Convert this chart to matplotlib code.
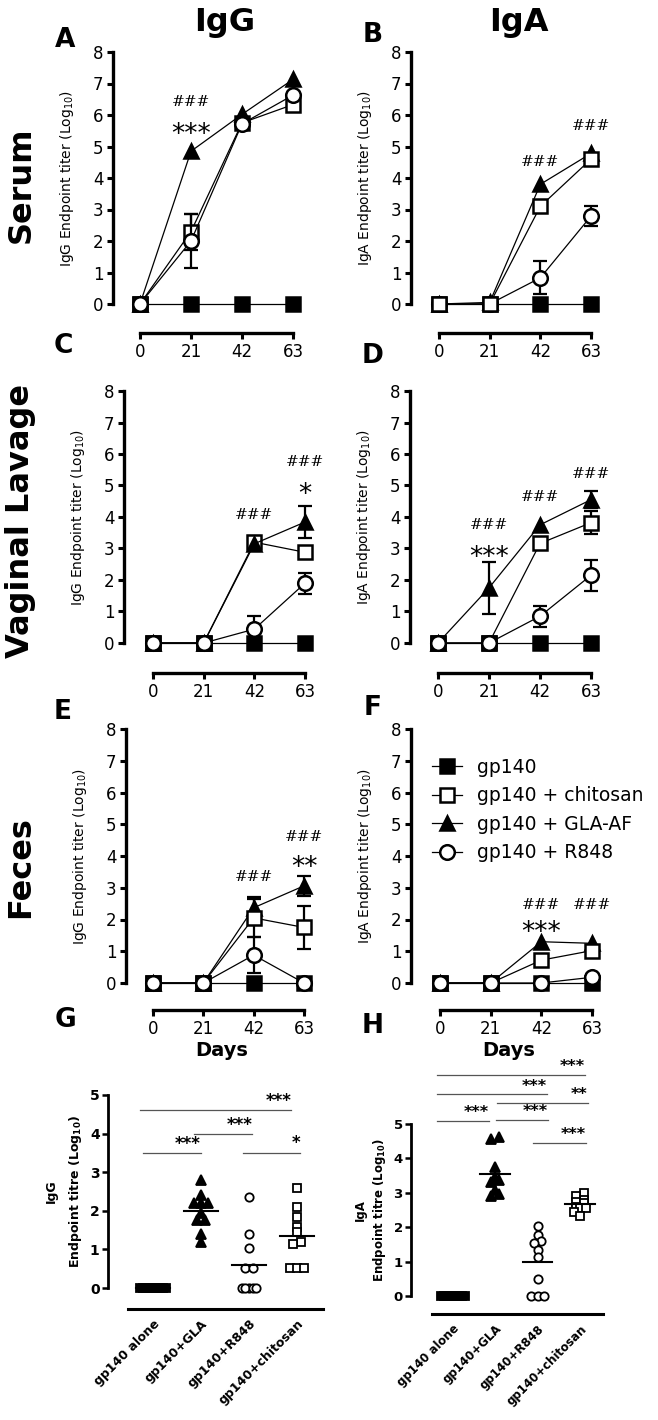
import numpy as np
import matplotlib
matplotlib.use('Agg')
import matplotlib.pyplot as plt

W, H = 658, 1420
fig = plt.figure(figsize=(W / 100, H / 100), dpi=100)
plt.rcParams['font.family'] = 'DejaVu Sans'

# ---------------- data ----------------
days = [0, 21, 42, 63]
groups = ['gp140', 'gp140 + chitosan', 'gp140 + GLA-AF', 'gp140 + R848']

# means per group (order as in `groups`), then SEM
serum_igg = [[0, 0, 0, 0], [0, 2.3, 5.75, 6.33], [0, 4.85, 6.02, 7.13], [0, 2.0, 5.72, 6.63]]
serum_igg_sem = [[0, 0, 0, 0], [0, 0.57, 0, 0], [0, 0, 0, 0], [0, 0.85, 0, 0]]
serum_iga = [[0, 0, 0, 0], [0, 0, 3.1, 4.6], [0, 0.05, 3.8, 4.78], [0, 0, 0.83, 2.79]]
serum_iga_sem = [[0, 0, 0, 0], [0, 0, 0, 0], [0, 0, 0, 0], [0, 0, 0.52, 0.31]]
vag_igg = [[0, 0, 0, 0], [0, 0, 3.2, 2.88], [0, 0, 3.15, 3.84], [0, 0, 0.44, 1.9]]
vag_igg_sem = [[0, 0, 0, 0], [0, 0, 0.2, 0], [0, 0, 0, 0.52], [0, 0, 0.42, 0.33]]
vag_iga = [[0, 0, 0, 0], [0, 0, 3.16, 3.82], [0, 1.75, 3.75, 4.55], [0, 0, 0.85, 2.15]]
vag_iga_sem = [[0, 0, 0, 0], [0, 0, 0, 0.36], [0, 0.82, 0, 0.28], [0, 0, 0.33, 0.49]]
fec_igg = [[0, 0, 0, 0], [0, 0, 2.05, 1.75], [0, 0, 2.37, 3.06], [0, 0, 0.88, 0]]
fec_igg_sem = [[0, 0, 0, 0], [0, 0, 0.6, 0.68], [0, 0, 0.34, 0.32], [0, 0, 0.57, 0]]
fec_iga = [[0, 0, 0, 0], [0, 0, 0.72, 1.02], [0, 0, 1.3, 1.25], [0, 0, 0, 0.18]]
fec_iga_sem = [[0, 0, 0, 0], [0, 0, 0, 0], [0, 0, 0, 0], [0, 0, 0, 0]]

# significance marks: (day, y, text)
serum_igg_marks = [(21, 6.4, '###'), (21, 5.6, '***')]
serum_iga_marks = [(42, 4.5, '###'), (63, 5.65, '###')]
vag_igg_marks = [(42, 4.05, '###'), (63, 5.75, '###'), (63, 4.95, '*')]
vag_iga_marks = [(21, 3.75, '###'), (21, 2.95, '***'), (42, 4.65, '###'), (63, 5.35, '###')]
fec_igg_marks = [(42, 3.35, '###'), (63, 4.6, '###'), (63, 3.85, '**')]
fec_iga_marks = [(42, 2.45, '###'), (42, 1.8, '***'), (63, 2.45, '###')]

# day-63 titres per mouse
cat_labels = ['gp140 alone', 'gp140+GLA', 'gp140+R848', 'gp140+chitosan']
igg_alone = [0] * 10
igg_gla = [2.8, 2.4, 2.2, 2.2, 2.2, 1.95, 1.75, 1.75, 1.4, 1.2]
igg_r848 = [2.37, 1.4, 1.03, 0.53, 0.53, 0, 0, 0, 0, 0]
igg_chitosan = [2.59, 2.11, 1.85, 1.57, 1.44, 1.19, 1.15, 0.52, 0.52, 0.52]
iga_alone = [0] * 10
iga_gla = [4.62, 4.55, 3.75, 3.45, 3.37, 3.3, 3.08, 2.97, 2.9]
iga_r848 = [2.03, 1.77, 1.6, 1.53, 1.33, 1.14, 0.5, 0, 0, 0]
iga_chitosan = [3.0, 2.92, 2.8, 2.74, 2.7, 2.6, 2.55, 2.55, 2.45, 2.33]
# (x from, x to, y, stars)
igg_sig = [(-0.27, 2.88, 4.6, '***'), (0.85, 2.07, 3.98, '***'),
           (-0.2, 1.0, 3.49, '***'), (1.87, 3.06, 3.5, '*')]
iga_sig = [(-0.38, 3.12, 6.42, '***'), (-0.38, 2.22, 5.86, '***'),
           (1.04, 3.19, 5.61, '**'), (-0.38, 0.85, 5.1, '***'),
           (1.02, 2.25, 5.13, '***'), (1.89, 3.14, 4.45, '***')]

styles = [dict(marker='s', mfc='black', ms=10),
          dict(marker='s', mfc='white', ms=10),
          dict(marker='^', mfc='black', ms=10),
          dict(marker='o', mfc='white', ms=10.5)]


def line_panel(geo, means, sems, marks, order, ylabel, xlabel=None):
    spine_x, x0, x63, y8, y0, xax = geo
    scale = (x63 - x0) / 63.0
    right = x63 + 14
    ax = fig.add_axes([spine_x / W, 1 - y0 / H, (right - spine_x) / W, (y0 - y8) / H])
    ax.set_xlim(-(x0 - spine_x) / scale, 63 + 14 / scale)
    ax.set_ylim(0, 8)
    z = 3
    for i in order:
        st = styles[i]
        m = np.array(means[i], float)
        e = np.array(sems[i], float)
        d = np.array(days)
        ok = e > 0
        if ok.any():
            ax.errorbar(d[ok], m[ok], yerr=e[ok], fmt='none', ecolor='black',
                        elinewidth=1.6, capsize=5, capthick=1.6, zorder=z, clip_on=False)
        ax.plot(d, m, color='black', lw=0.9, marker=st['marker'], ms=st['ms'],
                mfc=st['mfc'], mec='black', mew=1.8, clip_on=False, zorder=z + 0.5,
                label=groups[i])
        z += 1
    for d, y, t in marks:
        if t.startswith('#'):
            ax.text(d, y, t, ha='center', va='center', fontsize=11, family='DejaVu Serif')
        else:
            # asterisks sit high in the font, so anchor the baseline below the target
            ax.annotate(t, (d, y), xytext=(0, -10.5), textcoords='offset points',
                        ha='center', va='baseline', fontsize=19)
    for s in ['top', 'right']:
        ax.spines[s].set_visible(False)
    ax.spines['left'].set_linewidth(2.4)
    ax.spines['bottom'].set_linewidth(2.4)
    ax.spines['bottom'].set_position(('outward', (xax - y0) * 0.72))
    ax.spines['bottom'].set_bounds(0, 63)
    ax.set_xticks(days)
    ax.set_yticks(range(9))
    ax.tick_params(width=2.2, length=4, labelsize=12, direction='out', pad=3)
    ax.set_ylabel(ylabel, fontsize=10, labelpad=12)
    if xlabel:
        ax.set_xlabel(xlabel, fontsize=14, fontweight='bold', labelpad=2)
    return ax


def spread(vals, step, width):
    vals = np.asarray(vals, float)
    idx = np.argsort(vals)
    clusters = []
    for k in idx:
        if clusters and abs(vals[k] - vals[clusters[-1][0]]) <= 0.12:
            clusters[-1].append(k)
        else:
            clusters.append([k])
    off = np.zeros(len(vals))
    for c in clusters:
        n = len(c)
        st = step if n < 2 else min(step, width / (n - 1))
        for j, k in enumerate(c):
            off[k] = (j - (n - 1) / 2) * st
    return off


def dot_panel(geo, data, sig, ylabel, fs, lsp):
    spine_x, x0, xstep, y5, y0, xax, right, xl, xr = geo
    ax = fig.add_axes([spine_x / W, 1 - y0 / H, (right - spine_x) / W, (y0 - y5) / H])
    ax.set_xlim(-(x0 - spine_x) / xstep, (right - x0) / xstep)
    ax.set_ylim(0, 5)
    mk = [dict(marker='s', mfc='black'),
          dict(marker='^', mfc='black'),
          dict(marker='o', mfc='white'),
          dict(marker='s', mfc='white')]
    for i, vals in enumerate(data):
        width = 0.55 if i == 0 else 0.3
        off = spread(vals, 0.18, width)
        ax.plot(i + off, vals, ls='none', marker=mk[i]['marker'], ms=6 if i != 1 else 6.5,
                mfc=mk[i]['mfc'], mec='black', mew=1.3, clip_on=False, zorder=3)
        mean = np.mean(vals)
        ax.plot([i - 0.35, i + 0.35], [mean, mean], color='black', lw=1.5, zorder=4,
                clip_on=False)
    for a, b, y, t in sig:
        ax.plot([a, b], [y, y], color='#555555', lw=0.9, clip_on=False)
        ax.text(b, y + 0.02, t, ha='right', va='bottom', fontsize=fs + 3,
                fontweight='bold', clip_on=False)
    for s in ['top', 'right']:
        ax.spines[s].set_visible(False)
    ax.spines['left'].set_linewidth(2)
    ax.spines['bottom'].set_linewidth(2.2)
    ax.spines['bottom'].set_position(('outward', (xax - y0) * 0.72))
    ax.spines['bottom'].set_bounds(xl, xr)
    ax.set_yticks(range(6))
    ax.tick_params(axis='y', width=1.8, length=4, labelsize=fs + 1, pad=2)
    for lab in ax.get_yticklabels():
        lab.set_fontweight('bold')
    ax.set_xticks(range(4))
    ax.set_xticklabels(cat_labels, rotation=45, ha='right', va='top',
                       rotation_mode='anchor', fontsize=fs, fontweight='bold')
    ax.tick_params(axis='x', length=0, pad=6)
    ax.set_ylabel(ylabel, fontsize=fs, fontweight='bold', labelpad=4, linespacing=lsp)
    return ax


line_panel((113, 140, 293, 52, 304, 333), serum_igg, serum_igg_sem, serum_igg_marks,
           [0, 1, 2, 3], 'IgG Endpoint titer (Log$_{10}$)')
line_panel((411, 439, 591, 52, 304, 333), serum_iga, serum_iga_sem, serum_iga_marks,
           [0, 3, 2, 1], 'IgA Endpoint titer (Log$_{10}$)')
line_panel((124, 153, 305, 391, 643, 673), vag_igg, vag_igg_sem, vag_igg_marks,
           [0, 1, 2, 3], 'IgG Endpoint titer (Log$_{10}$)')
line_panel((410, 438, 591, 391, 643, 673), vag_iga, vag_iga_sem, vag_iga_marks,
           [0, 1, 2, 3], 'IgA Endpoint titer (Log$_{10}$)')
line_panel((126, 153, 304, 729, 983, 1010), fec_igg, fec_igg_sem, fec_igg_marks,
           [0, 2, 1, 3], 'IgG Endpoint titer (Log$_{10}$)', 'Days')
axF = line_panel((411, 440, 592, 729, 983, 1010), fec_iga, fec_iga_sem, fec_iga_marks,
                 [0, 2, 1, 3], 'IgA Endpoint titer (Log$_{10}$)', 'Days')

h, l = axF.get_legend_handles_labels()
lut = dict(zip(l, h))
axF.legend([lut[g] for g in groups], groups, loc='center left', frameon=False,
           bbox_to_anchor=(432 / W, 1 - 810 / H), bbox_transform=fig.transFigure,
           fontsize=13.5, handlelength=1.6, handletextpad=0.8, labelspacing=0.5,
           borderpad=0, borderaxespad=0)

dot_panel((108, 153, 48, 1095, 1288, 1309, 330, -0.52, 3.54),
          [igg_alone, igg_gla, igg_r848, igg_chitosan], igg_sig,
          'IgG\nEndpoint titre (Log$_{\\bf 10}$)', 9, 1.8)
dot_panel((411, 453, 42.3, 1124, 1296, 1314, 610, -0.5, 3.55),
          [iga_alone, iga_gla, iga_r848, iga_chitosan], iga_sig,
          'IgA\nEndpoint titre (Log$_{\\bf 10}$)', 8.5, 1.3)

# titles, row labels, panel letters
fig.text(225 / W, 1 - 22 / H, 'IgG', ha='center', va='center', fontsize=23, fontweight='bold')
fig.text(519 / W, 1 - 22 / H, 'IgA', ha='center', va='center', fontsize=23, fontweight='bold')
for txt, y in [('Serum', 185), ('Vaginal Lavage', 521), ('Feces', 867)]:
    fig.text(21 / W, 1 - y / H, txt, rotation=90, ha='center', va='center',
             fontsize=23, fontweight='bold')
for txt, x, y in [('A', 65, 40), ('B', 373, 35), ('C', 63, 346), ('D', 373, 356),
                  ('E', 63, 712), ('F', 373, 708), ('G', 65, 1020), ('H', 373, 1026)]:
    fig.text(x / W, 1 - y / H, txt, ha='center', va='center', fontsize=19, fontweight='bold')

fig.savefig('out.png', dpi=100, facecolor='white')
